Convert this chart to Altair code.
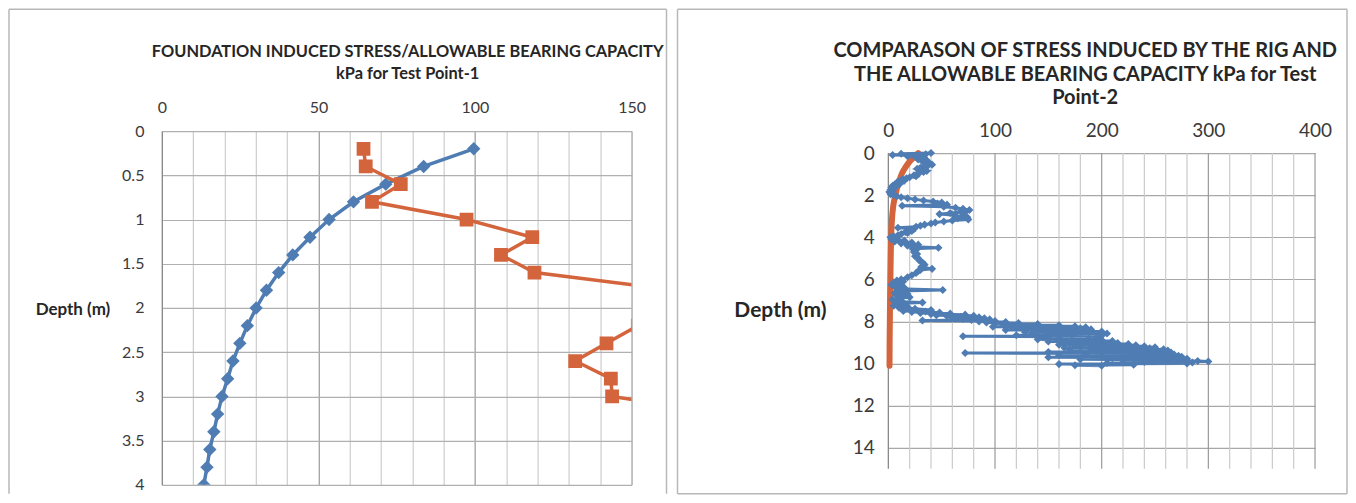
import altair as alt
import pandas as pd

FONT = "Lato"

# ---------------- Left chart (Test Point-1) ----------------
left_blue_depth = [0.2, 0.4, 0.6, 0.8, 1.0, 1.2, 1.4, 1.6, 1.8, 2.0,
                   2.2, 2.4, 2.6, 2.8, 3.0, 3.2, 3.4, 3.6, 3.8, 4.0]
left_blue_stress = [99.6, 83.6, 71.5, 61.2, 53.4, 47.3, 41.8, 37.3, 33.4, 30.1,
                    27.3, 24.9, 22.7, 21.0, 19.2, 17.8, 16.6, 15.3, 14.4, 13.4]
left_orange_depth = [0.2, 0.4, 0.6, 0.8, 1.0, 1.2, 1.4, 1.6, 1.8, 2.0,
                     2.2, 2.4, 2.6, 2.8, 3.0, 3.2]
left_orange_abc = [64.4, 65.1, 76.3, 67.1, 97.3, 118.3, 108.3, 119.0, 164.0, 175.0,
                   152.0, 142.0, 132.0, 143.4, 143.8, 180.0]

# ---------------- Right chart (Test Point-2) ----------------
right_x_grid_minor = [20, 40, 60, 80, 120, 140, 160, 180, 220, 240, 260, 280,
                      320, 340, 360, 380]
right_x_grid_major = [100, 200, 300, 400]

right_orange_depth = [0.0, 0.2, 0.4, 0.6, 0.8, 1.0, 1.2, 1.4, 1.7, 2.0, 2.3, 2.6,
                      3.0, 3.5, 4.0, 5.0, 6.0, 7.0, 8.0, 9.0, 10.1]
right_orange_stress = [28, 24, 20, 17, 14.5, 12.5, 11, 9.5, 8, 6.5, 5.3, 4.4,
                       3.6, 3.0, 2.6, 2.2, 1.9, 1.6, 1.4, 1.2, 1.1]

right_blue_depth = [
    0.00, 0.03, 0.06, 0.09, 0.12, 0.15, 0.20, 0.25, 0.30, 0.35, 0.40, 0.45, 0.50,
    0.55, 0.60, 0.65, 0.70, 0.75, 0.80, 0.85, 0.90, 0.95, 1.00, 1.05, 1.10, 1.15,
    1.20, 1.25, 1.30, 1.35, 1.40, 1.45, 1.50, 1.55, 1.60, 1.65, 1.70, 1.75, 1.80,
    1.85, 1.90, 1.95, 2.00,
    2.05, 2.10, 2.15, 2.20, 2.25, 2.30, 2.35, 2.40, 2.45, 2.50, 2.55, 2.60, 2.65,
    2.70, 2.75, 2.80, 2.85, 2.90, 2.95, 3.00, 3.05, 3.10, 3.15, 3.20, 3.25, 3.30,
    3.35, 3.40, 3.45, 3.50, 3.55, 3.60, 3.65, 3.70, 3.75, 3.80, 3.85, 3.90, 3.95,
    4.00,
    4.05, 4.10, 4.15, 4.20, 4.25, 4.30, 4.35, 4.40, 4.45, 4.50, 4.55, 4.60, 4.70,
    4.80, 4.90, 5.00, 5.10, 5.20, 5.30, 5.40, 5.50, 5.55, 5.60, 5.70, 5.80, 5.90,
    6.00,
    6.05, 6.10, 6.15, 6.20, 6.25, 6.30, 6.35, 6.40, 6.45, 6.50, 6.55, 6.60, 6.65,
    6.70, 6.75, 6.80, 6.85, 6.90, 6.95, 7.00, 7.05, 7.10, 7.15, 7.20, 7.25, 7.30,
    7.35, 7.40, 7.45,
    7.500, 7.525, 7.550, 7.575, 7.600, 7.625, 7.650, 7.675, 7.700, 7.725, 7.750,
    7.775, 7.800, 7.825, 7.850, 7.875, 7.900, 7.925, 7.950, 7.975, 8.000, 8.025,
    8.050, 8.075, 8.100, 8.125, 8.150, 8.175, 8.200, 8.225, 8.250, 8.275, 8.300,
    8.325, 8.350, 8.375, 8.400, 8.425, 8.450, 8.475, 8.500, 8.525, 8.550, 8.575,
    8.600, 8.625, 8.650, 8.675, 8.700, 8.725, 8.750, 8.775, 8.800, 8.825, 8.850,
    8.875, 8.900, 8.925, 8.950, 8.975, 9.000, 9.025, 9.050, 9.075, 9.100, 9.125,
    9.150, 9.175, 9.200, 9.225, 9.250, 9.275, 9.300, 9.325, 9.350, 9.375, 9.400,
    9.425, 9.450, 9.475, 9.500, 9.525, 9.550, 9.575, 9.600, 9.625, 9.650, 9.675,
    9.700, 9.725, 9.750, 9.775, 9.800, 9.825, 9.850, 9.875, 9.900, 9.925, 9.950,
    9.975, 10.000, 10.025, 10.050, 10.075, 10.100,
]
right_blue_stress = [
    40, 12, 35, 4, 30, 18, 26, 34, 28, 36, 32, 38, 35,
    41, 37, 33, 30, 27, 31, 36, 33, 29, 27, 24, 26, 20,
    17, 13, 15, 10, 8, 11, 6, 4, 7, 3, 5, 2, 4,
    1, 3, 2, 5,
    8, 12, 18, 25, 33, 42, 50, 46, 55, 13, 52, 63, 70,
    76, 68, 72, 58, 48, 62, 69, 74, 65, 75, 60, 52, 44,
    40, 34, 30, 26, 9, 24, 20, 22, 16, 18, 12, 9, 5,
    2,
    8, 3, 15, 6, 22, 12, 28, 18, 24, 47, 23, 26, 24,
    27, 25, 28, 29, 32, 34, 31, 41, 30, 28, 26, 22, 18,
    12,
    8, 14, 5, 10, 3, 12, 6, 15, 9, 51, 10, 16, 6,
    18, 8, 14, 20, 10, 4, 12, 6, 32, 8, 15, 5, 18,
    10, 25, 40,
    14, 35, 22, 48, 30, 58, 40, 72, 45, 80, 55,
    68, 85, 60, 90, 70, 95, 78, 32, 100, 85, 110,
    92, 122, 100, 140, 108, 160, 115, 175, 98, 185, 120,
    180, 130, 190, 110, 172, 140, 200, 128, 176, 150, 205,
    135, 172, 120, 200, 70, 160, 145, 195, 150, 188, 140,
    200, 160, 210, 150, 198, 165, 215, 170, 225, 160, 232,
    175, 240, 180, 250, 165, 245, 190, 258, 170, 262, 195,
    255, 150, 265, 72, 240, 185, 268, 160, 272, 200, 275,
    150, 262, 210, 280, 180, 270, 220, 290, 300, 240, 285,
    205, 280, 160, 230, 175, 200,
]

BLUE = "#4f7db3"
ORANGE = "#d4643c"
LABEL_COLOR = "#3a3a3a"
TITLE_COLOR = "#262626"

one = pd.DataFrame({"k": [0]})


def text_at(txt, x, y, size):
    return alt.Chart(one).mark_text(
        text=txt, font=FONT, fontSize=size, fontWeight="bold", color=TITLE_COLOR,
        align="center", baseline="middle"
    ).encode(x=alt.value(x), y=alt.value(y))


def frame(x1, x2, y1, y2, bottom=True):
    color = "#b8b8b8"
    layers = [
        alt.Chart(one).mark_rule(color=color, strokeWidth=1.5).encode(
            x=alt.value(x1), x2=alt.value(x2), y=alt.value(y1)),
        alt.Chart(one).mark_rule(color=color, strokeWidth=1.5).encode(
            x=alt.value(x1), y=alt.value(y1), y2=alt.value(y2)),
        alt.Chart(one).mark_rule(color=color, strokeWidth=1.5).encode(
            x=alt.value(x2), y=alt.value(y1), y2=alt.value(y2)),
    ]
    if bottom:
        layers.append(alt.Chart(one).mark_rule(color=color, strokeWidth=1.5).encode(
            x=alt.value(x1), x2=alt.value(x2), y=alt.value(y2)))
    return layers


def grid_color(step_major, major, minor):
    return {"condition": {"test": f"datum.value % {step_major} === 0", "value": major},
            "value": minor}


# ---- left panel ----
LW, LH = 470, 354
left_blue_df = pd.DataFrame({"depth": left_blue_depth, "stress": left_blue_stress})
left_orange_df = pd.DataFrame({"depth": left_orange_depth, "stress": left_orange_abc})

lx = alt.X("stress:Q",
           scale=alt.Scale(domain=[0, 150], nice=False, zero=False),
           axis=alt.Axis(orient="top", values=list(range(0, 151, 10)), title=None,
                         labelExpr="datum.value % 50 === 0 ? datum.label : ''",
                         ticks=False, domain=False, labelFont=FONT, labelFontSize=16,
                         labelColor=LABEL_COLOR, labelPadding=16, labelFlush=False,
                         gridColor=grid_color(50, "#9a9a9a", "#cdcdcd"), gridWidth=1.2))
ly = alt.Y("depth:Q",
           scale=alt.Scale(domain=[0, 4], reverse=True, nice=False, zero=False),
           axis=alt.Axis(values=[0, 0.5, 1, 1.5, 2, 2.5, 3, 3.5, 4], format="~g",
                         title=None, ticks=False, domain=True, domainColor="#8a8a8a",
                         domainWidth=1.2, labelFont=FONT, labelFontSize=16,
                         labelColor=LABEL_COLOR, labelPadding=18, labelFlush=False,
                         gridColor="#b0b0b0", gridWidth=1.2))

l_blue_line = alt.Chart(left_blue_df).mark_line(color=BLUE, strokeWidth=3.5, clip=True).encode(
    x=lx, y=ly, order="depth:Q")
l_blue_pts = alt.Chart(left_blue_df).mark_point(
    shape="diamond", filled=True, color=BLUE, size=180, opacity=1, clip=True).encode(x=lx, y=ly)
l_or_line = alt.Chart(left_orange_df).mark_line(color=ORANGE, strokeWidth=3.5, clip=True).encode(
    x=lx, y=ly, order="depth:Q")
l_or_pts = alt.Chart(left_orange_df).mark_point(
    shape="square", filled=True, color=ORANGE, size=190, opacity=1, clip=True).encode(x=lx, y=ly)

left = alt.layer(
    l_blue_line, l_blue_pts, l_or_line, l_or_pts,
    text_at("FOUNDATION INDUCED STRESS/ALLOWABLE BEARING CAPACITY", 246, -79, 16.4),
    text_at("kPa for Test Point-1", 246, -57, 16.4),
    text_at("Depth (m)", -89, 179, 17),
    *frame(-153, 505, -122, 363, bottom=False),
).properties(width=LW, height=LH)

# ---- right panel ----
# plot group starts 22px above the depth-0 line so both panels share a top edge
RW, RH = 427, 338
R_TOP = 22
right_blue_df = pd.DataFrame({"depth": right_blue_depth, "stress": right_blue_stress})
right_orange_df = pd.DataFrame({"depth": right_orange_depth, "stress": right_orange_stress})

rx_scale = alt.Scale(domain=[0, 400], nice=False, zero=False)
ry_scale = alt.Scale(domain=[0, 15], range=[R_TOP, RH], nice=False, zero=False)

rx = alt.X("stress:Q", scale=rx_scale,
           axis=alt.Axis(orient="top", values=[0, 100, 200, 300, 400], title=None,
                         ticks=False, domain=False, grid=False, offset=-R_TOP,
                         labelFont=FONT, labelFontSize=19,
                         labelColor=LABEL_COLOR, labelPadding=13, labelFlush=False))
ry = alt.Y("depth:Q", scale=ry_scale,
           axis=alt.Axis(values=list(range(0, 15, 2)), title=None, ticks=False,
                         domain=False, labelFont=FONT, labelFontSize=19,
                         labelColor=LABEL_COLOR, labelPadding=14, labelFlush=False,
                         gridColor="#a8a8a8", gridWidth=1.2))

grid_minor_df = pd.DataFrame({"stress": right_x_grid_minor, "d0": 0, "d1": 15})
grid_major_df = pd.DataFrame({"stress": right_x_grid_major, "d0": 0, "d1": 15})
axis0_df = pd.DataFrame({"stress": [0], "d0": [0], "d1": [15]})

r_grid_minor = alt.Chart(grid_minor_df).mark_rule(color="#cacaca", strokeWidth=1.2).encode(
    x=alt.X("stress:Q", scale=rx_scale), y=alt.Y("d0:Q", scale=ry_scale), y2="d1:Q")
r_grid_major = alt.Chart(grid_major_df).mark_rule(color="#9a9a9a", strokeWidth=1.2).encode(
    x=alt.X("stress:Q", scale=rx_scale), y=alt.Y("d0:Q", scale=ry_scale), y2="d1:Q")
r_axis0 = alt.Chart(axis0_df).mark_rule(color="#8a8a8a", strokeWidth=1.3).encode(
    x=alt.X("stress:Q", scale=rx_scale), y=alt.Y("d0:Q", scale=ry_scale), y2="d1:Q")

r_or_line = alt.Chart(right_orange_df).mark_line(
    color=ORANGE, strokeWidth=6, strokeCap="round", interpolate="monotone").encode(
    x=rx, y=ry, order="depth:Q")
r_blue_line = alt.Chart(right_blue_df).mark_line(color=BLUE, strokeWidth=3).encode(
    x=rx, y=ry, order="depth:Q")
r_blue_pts = alt.Chart(right_blue_df).mark_point(
    shape="diamond", filled=True, color=BLUE, size=65, opacity=1).encode(x=rx, y=ry)

right = alt.layer(
    r_grid_minor, r_grid_major, r_axis0, r_or_line, r_blue_line, r_blue_pts,
    text_at("COMPARASON OF STRESS INDUCED BY THE RIG AND", 197, -80, 20),
    text_at("THE ALLOWABLE BEARING CAPACITY kPa for Test", 197, -56, 20),
    text_at("Point-2", 197, -33, 20),
    text_at("Depth (m)", -108, 180, 21),
    *frame(-211, 459, -122, 363, bottom=True),
).properties(width=RW, height=RH)

chart = alt.concat(left, right, columns=2, align="none", spacing=9).properties(
    padding=0, background="white"
).configure_view(stroke=None)

chart.save("out.html", embed_options={"renderer": "svg", "actions": False})
